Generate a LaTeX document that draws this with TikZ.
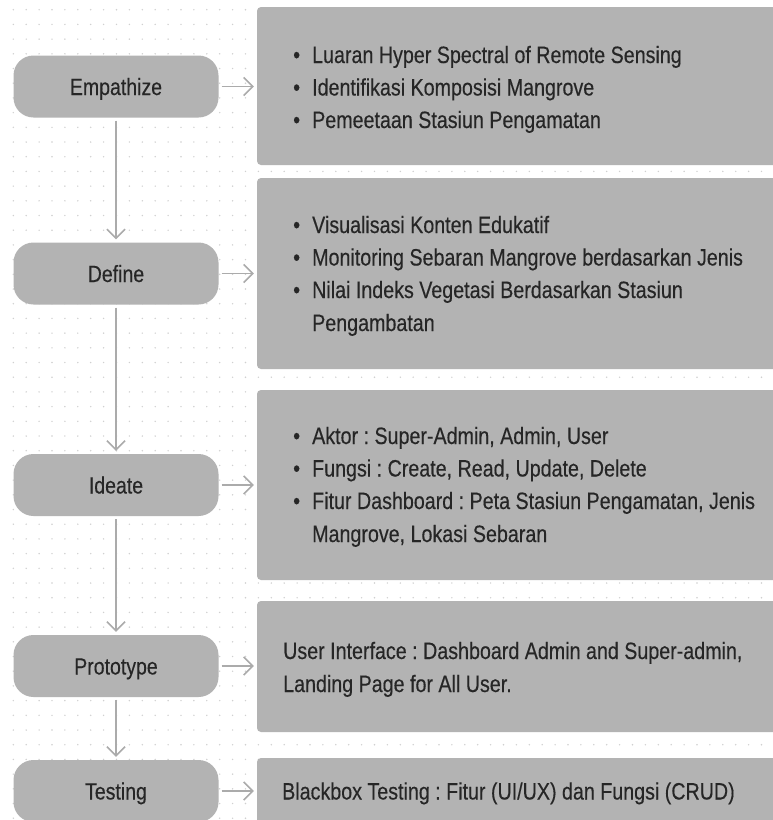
\documentclass[tikz,border=0pt]{standalone}
\usepackage{fontspec}
\setmainfont[FakeStretch=0.83,FakeBold=0.3]{Liberation Sans}
\usetikzlibrary{arrows.meta}
\definecolor{boxgray}{HTML}{B3B3B3}
\definecolor{linegray}{HTML}{ABABAB}
\definecolor{dotgray}{HTML}{D0D0D0}
\definecolor{txt}{HTML}{262626}
\newcommand{\bul}{\makebox[19pt][l]{\textbullet}}
\frenchspacing
\begin{document}
\frenchspacing
\begin{tikzpicture}[x=1pt,y=-1pt,
  stage/.style={fill=boxgray, rounded corners=20pt, minimum width=205pt, minimum height=62pt,
    inner sep=0pt, text=txt, text height=17pt, text depth=0pt, font=\fontsize{23.5}{28}\selectfont},
  infobox/.style={fill=boxgray, rounded corners=4pt, inner sep=0pt, minimum width=543pt},
  line/.style={anchor=base west, inner sep=0pt, text=txt, font=\fontsize{23.7}{28}\selectfont},
  flow/.style={draw=linegray, line width=1.6pt, shorten <=3pt, shorten >=3pt,
    -{Straight Barb[length=9pt,width=18pt]}}]
\useasboundingbox (0,0) rectangle (773,820);
\clip (0,0) rectangle (773,820);
\fill[white] (0,0) rectangle (773,820);
% dotted grid
\foreach \i in {0,...,59}{
  \foreach \j in {0,...,55}{
    \fill[dotgray] ({13.3+12.9*\i},{9.7+14.7*\j}) circle (0.8pt);
  }
}
% stage nodes
\node[stage] (emp) at (116,86.5) {Empathize};
\node[stage] (def) at (116,273.5) {Define};
\node[stage] (ide) at (116,485) {Ideate};
\node[stage] (pro) at (116,666) {Prototype};
\node[stage] (tes) at (116,791) {Testing};
% info boxes
\node[infobox, minimum height=158pt] (b1) at (528.5,86) {};
\node[infobox, minimum height=191pt] (b2) at (528.5,273.5) {};
\node[infobox, minimum height=190pt] (b3) at (528.5,485) {};
\node[infobox, minimum height=131pt] (b4) at (528.5,666.5) {};
\node[infobox, minimum height=82pt] (b5) at (528.5,799) {};
% texts
\node[line] (l11) at (293,63) {\bul Luaran Hyper Spectral of Remote Sensing};
\node[line] (l12) at (293,95.5) {\bul Identifikasi Komposisi Mangrove};
\node[line] (l13) at (293,128) {\bul Pemeetaan Stasiun Pengamatan};
\node[line] (l21) at (293,233) {\bul Visualisasi Konten Edukatif};
\node[line] (l22) at (293,265.5) {\bul Monitoring Sebaran Mangrove berdasarkan Jenis};
\node[line] (l23) at (293,298) {\bul Nilai Indeks Vegetasi Berdasarkan Stasiun};
\node[line] (l24) at (312,331) {Pengambatan};
\node[line] (l31) at (293,444) {\bul Aktor : Super-Admin, Admin, User};
\node[line] (l32) at (293,476.5) {\bul Fungsi : Create, Read, Update, Delete};
\node[line] (l33) at (293,509) {\bul Fitur Dashboard : Peta Stasiun Pengamatan, Jenis};
\node[line] (l34) at (312,542) {Mangrove, Lokasi Sebaran};
\node[line] (l41) at (283,659) {User Interface : Dashboard Admin and Super-admin,};
\node[line] (l42) at (283,692) {Landing Page for All User.};
\node[line] (l51) at (282,799.5) {Blackbox Testing : Fitur (UI/UX) dan Fungsi (CRUD)};
% connectors
\draw[flow] (emp) -- (def);
\draw[flow] (def) -- (ide);
\draw[flow] (ide) -- (pro);
\draw[flow] (pro) -- (tes);
\draw[flow] (emp.east) -- (emp.east -| b1.west);
\draw[flow] (def.east) -- (def.east -| b2.west);
\draw[flow] (ide.east) -- (ide.east -| b3.west);
\draw[flow] (pro.east) -- (pro.east -| b4.west);
\draw[flow] (tes.east) -- (tes.east -| b5.west);
\end{tikzpicture}
\end{document}
